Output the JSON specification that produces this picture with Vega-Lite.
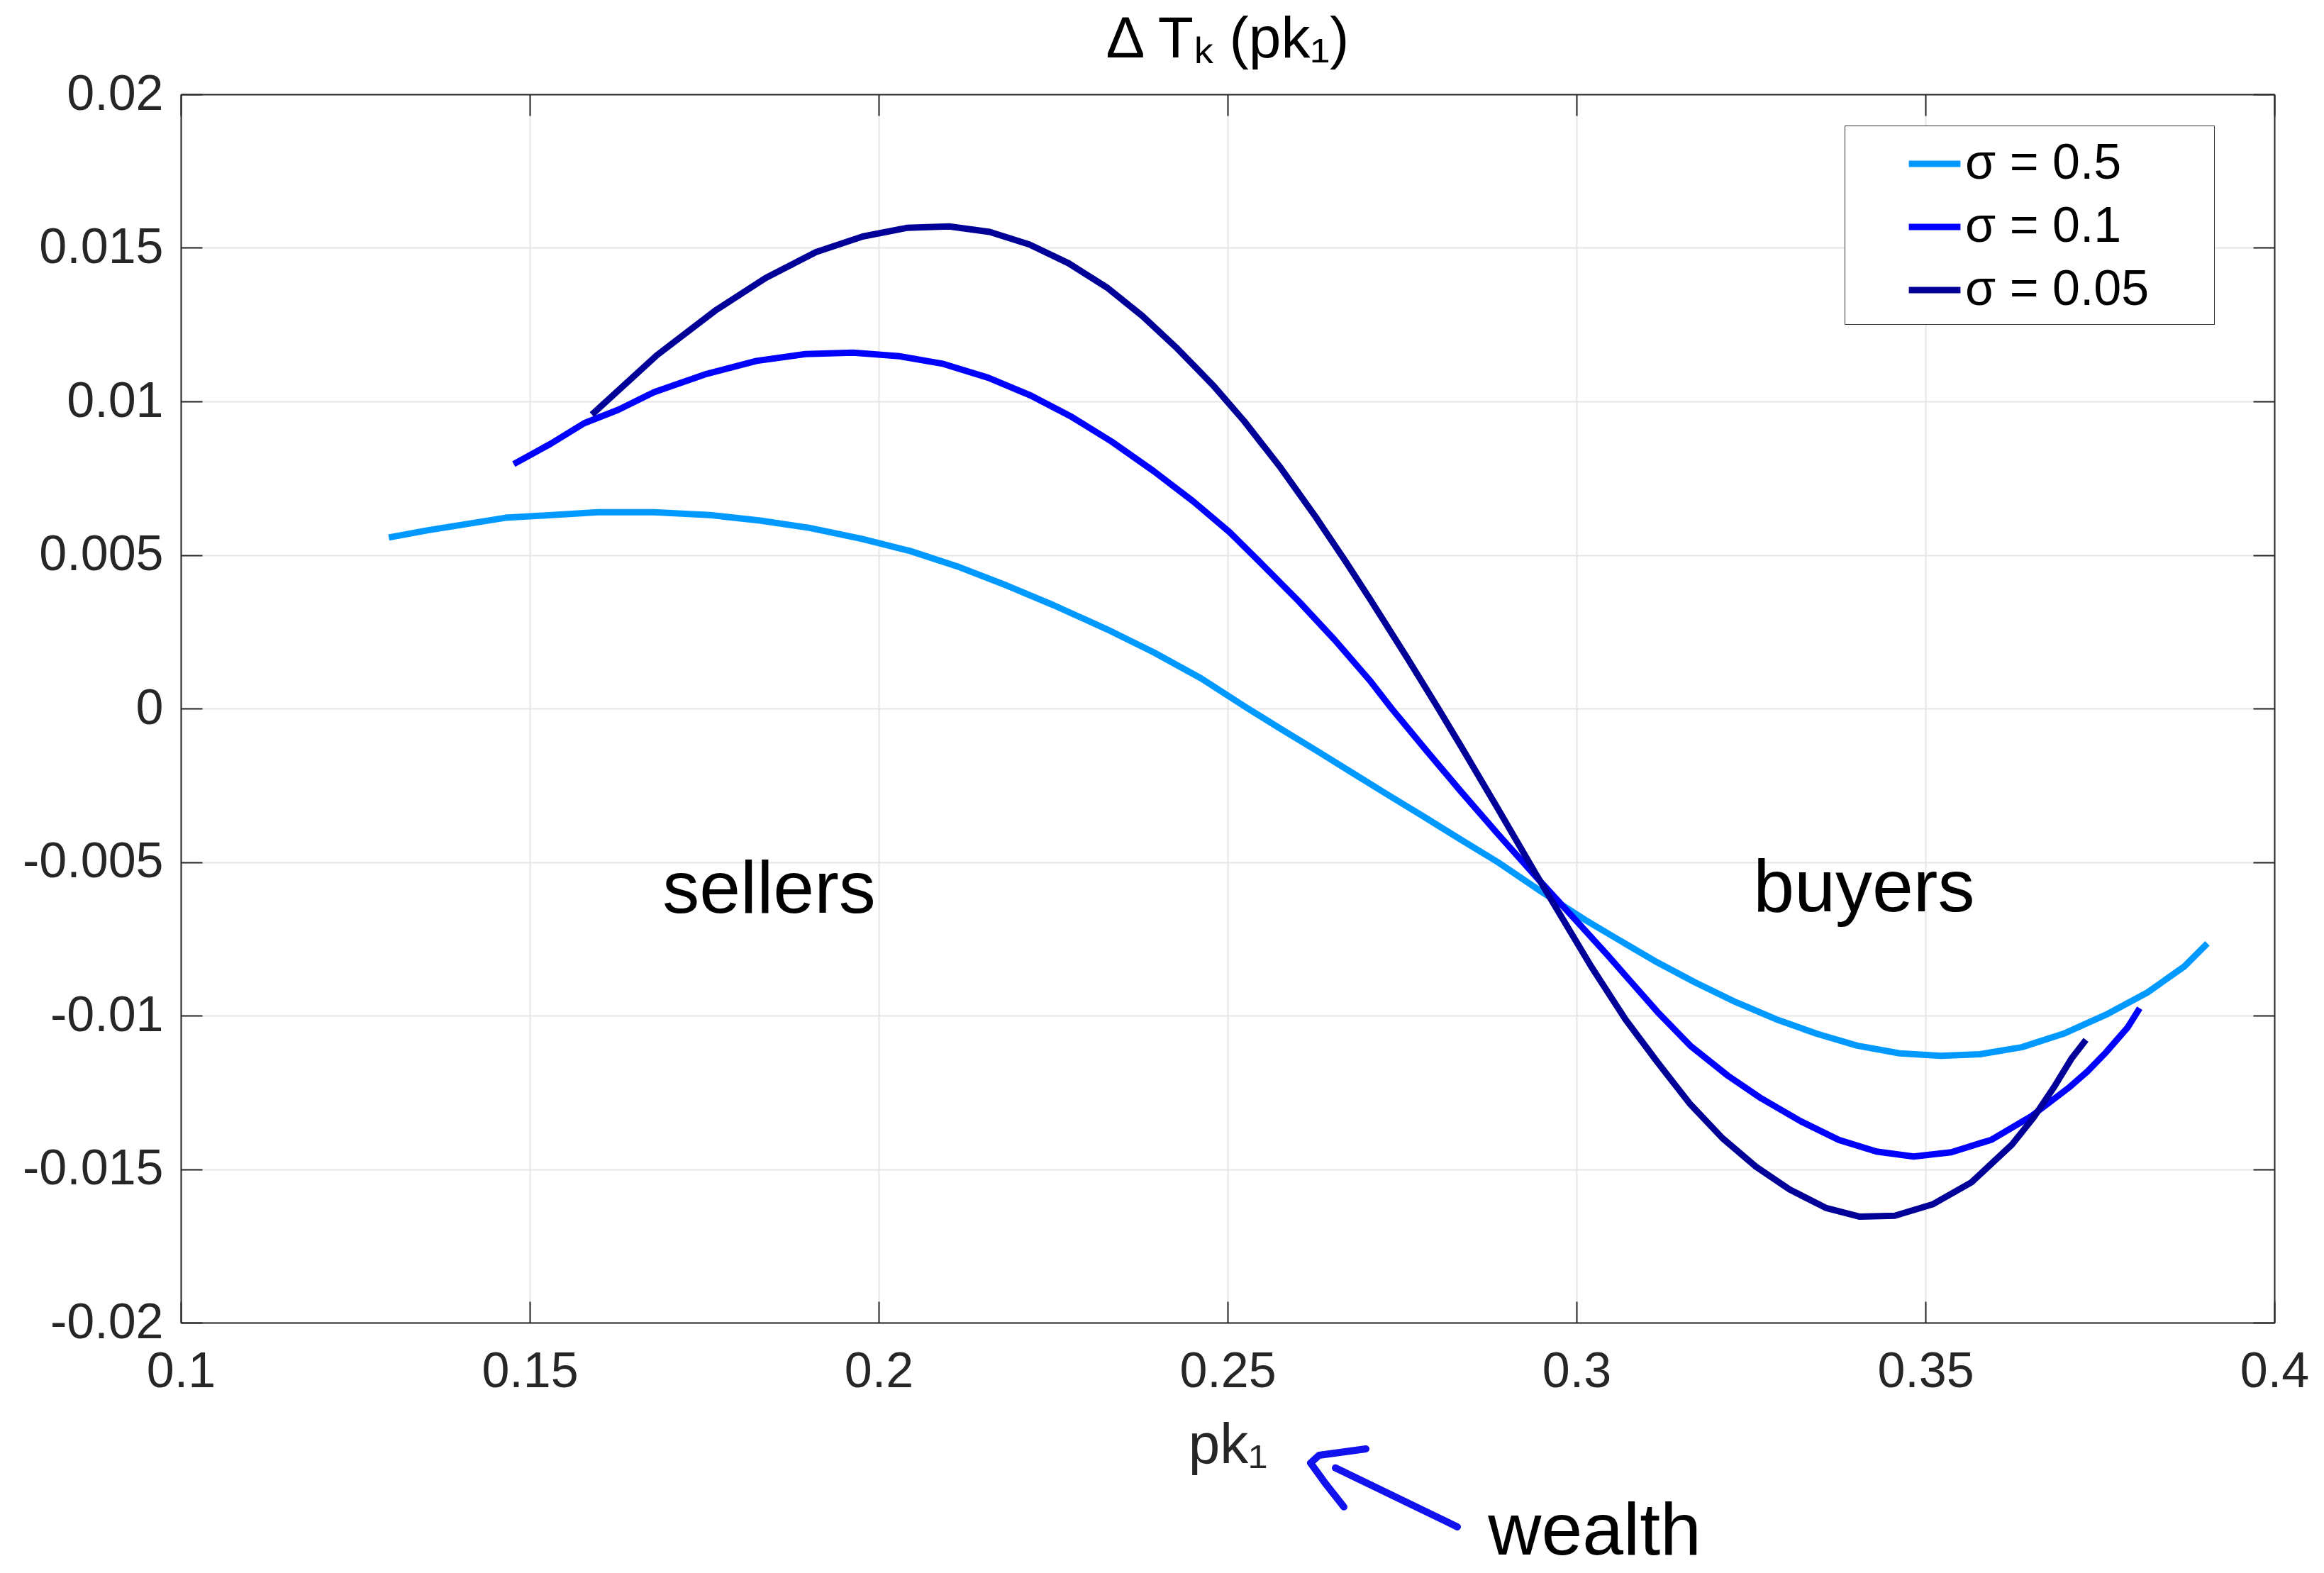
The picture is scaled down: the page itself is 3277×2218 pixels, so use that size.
{
  "$schema": "https://vega.github.io/schema/vega-lite/v6.json",
  "width": 2952,
  "height": 1732,
  "autosize": {"type": "none"},
  "padding": {"left": 255, "top": 133, "right": 70, "bottom": 353},
  "background": "white",
  "title": {"text": "Δ Tₖ (pk₁)", "fontSize": 82, "font": "Liberation Sans", "fontWeight": "normal", "color": "#000000", "anchor": "middle", "frame": "group", "baseline": "alphabetic", "offset": -65},
  "config": {
    "view": {"stroke": null},
    "font": "Liberation Sans",
    "axis": {"labelFont": "Liberation Sans", "titleFont": "Liberation Sans"},
    "text": {"font": "Liberation Sans"}
  },
  "datasets": {
    "curves": [
      {"s": "σ = 0.5", "x": 0.1298, "y": 0.00557},
      {"s": "σ = 0.5", "x": 0.1353, "y": 0.0058},
      {"s": "σ = 0.5", "x": 0.1465, "y": 0.00621},
      {"s": "σ = 0.5", "x": 0.1598, "y": 0.00639},
      {"s": "σ = 0.5", "x": 0.1678, "y": 0.00639},
      {"s": "σ = 0.5", "x": 0.1758, "y": 0.0063},
      {"s": "σ = 0.5", "x": 0.1830, "y": 0.00612},
      {"s": "σ = 0.5", "x": 0.1901, "y": 0.00588},
      {"s": "σ = 0.5", "x": 0.1975, "y": 0.00553},
      {"s": "σ = 0.5", "x": 0.2045, "y": 0.00513},
      {"s": "σ = 0.5", "x": 0.2116, "y": 0.0046},
      {"s": "σ = 0.5", "x": 0.2184, "y": 0.0040},
      {"s": "σ = 0.5", "x": 0.2251, "y": 0.00336},
      {"s": "σ = 0.5", "x": 0.2327, "y": 0.00258},
      {"s": "σ = 0.5", "x": 0.2394, "y": 0.00183},
      {"s": "σ = 0.5", "x": 0.2462, "y": 0.00098},
      {"s": "σ = 0.5", "x": 0.2529, "y": 0.0},
      {"s": "σ = 0.5", "x": 0.2576, "y": -0.00066},
      {"s": "σ = 0.5", "x": 0.2628, "y": -0.00138},
      {"s": "σ = 0.5", "x": 0.2679, "y": -0.0021},
      {"s": "σ = 0.5", "x": 0.2731, "y": -0.00283},
      {"s": "σ = 0.5", "x": 0.2783, "y": -0.00355},
      {"s": "σ = 0.5", "x": 0.2835, "y": -0.00428},
      {"s": "σ = 0.5", "x": 0.2887, "y": -0.005},
      {"s": "σ = 0.5", "x": 0.2950, "y": -0.00597},
      {"s": "σ = 0.5", "x": 0.3012, "y": -0.00688},
      {"s": "σ = 0.5", "x": 0.3058, "y": -0.0075},
      {"s": "σ = 0.5", "x": 0.3112, "y": -0.00822},
      {"s": "σ = 0.5", "x": 0.3170, "y": -0.00892},
      {"s": "σ = 0.5", "x": 0.3228, "y": -0.00956},
      {"s": "σ = 0.5", "x": 0.3286, "y": -0.01012},
      {"s": "σ = 0.5", "x": 0.3344, "y": -0.01059},
      {"s": "σ = 0.5", "x": 0.3402, "y": -0.01098},
      {"s": "σ = 0.5", "x": 0.3463, "y": -0.01123},
      {"s": "σ = 0.5", "x": 0.3522, "y": -0.01131},
      {"s": "σ = 0.5", "x": 0.3578, "y": -0.01126},
      {"s": "σ = 0.5", "x": 0.3638, "y": -0.01103},
      {"s": "σ = 0.5", "x": 0.3698, "y": -0.01059},
      {"s": "σ = 0.5", "x": 0.3759, "y": -0.00997},
      {"s": "σ = 0.5", "x": 0.3818, "y": -0.00925},
      {"s": "σ = 0.5", "x": 0.3871, "y": -0.0084},
      {"s": "σ = 0.5", "x": 0.3904, "y": -0.00765},

      {"s": "σ = 0.1", "x": 0.1477, "y": 0.00796},
      {"s": "σ = 0.1", "x": 0.1530, "y": 0.00862},
      {"s": "σ = 0.1", "x": 0.1578, "y": 0.00929},
      {"s": "σ = 0.1", "x": 0.1627, "y": 0.00973},
      {"s": "σ = 0.1", "x": 0.1678, "y": 0.0103},
      {"s": "σ = 0.1", "x": 0.1751, "y": 0.01088},
      {"s": "σ = 0.1", "x": 0.1825, "y": 0.01132},
      {"s": "σ = 0.1", "x": 0.1895, "y": 0.01154},
      {"s": "σ = 0.1", "x": 0.1963, "y": 0.01159},
      {"s": "σ = 0.1", "x": 0.2030, "y": 0.01147},
      {"s": "σ = 0.1", "x": 0.2093, "y": 0.01122},
      {"s": "σ = 0.1", "x": 0.2157, "y": 0.01077},
      {"s": "σ = 0.1", "x": 0.2218, "y": 0.01019},
      {"s": "σ = 0.1", "x": 0.2277, "y": 0.00949},
      {"s": "σ = 0.1", "x": 0.2334, "y": 0.00869},
      {"s": "σ = 0.1", "x": 0.2394, "y": 0.00773},
      {"s": "σ = 0.1", "x": 0.2451, "y": 0.00674},
      {"s": "σ = 0.1", "x": 0.2503, "y": 0.00574},
      {"s": "σ = 0.1", "x": 0.2550, "y": 0.00468},
      {"s": "σ = 0.1", "x": 0.2602, "y": 0.00349},
      {"s": "σ = 0.1", "x": 0.2654, "y": 0.00222},
      {"s": "σ = 0.1", "x": 0.2705, "y": 0.00088},
      {"s": "σ = 0.1", "x": 0.2735, "y": 0.0},
      {"s": "σ = 0.1", "x": 0.2783, "y": -0.00132},
      {"s": "σ = 0.1", "x": 0.2835, "y": -0.00272},
      {"s": "σ = 0.1", "x": 0.2887, "y": -0.00408},
      {"s": "σ = 0.1", "x": 0.2942, "y": -0.00548},
      {"s": "σ = 0.1", "x": 0.3004, "y": -0.00702},
      {"s": "σ = 0.1", "x": 0.3044, "y": -0.00802},
      {"s": "σ = 0.1", "x": 0.3078, "y": -0.0089},
      {"s": "σ = 0.1", "x": 0.3116, "y": -0.00988},
      {"s": "σ = 0.1", "x": 0.3163, "y": -0.01098},
      {"s": "σ = 0.1", "x": 0.3217, "y": -0.01196},
      {"s": "σ = 0.1", "x": 0.3265, "y": -0.0127},
      {"s": "σ = 0.1", "x": 0.3322, "y": -0.01345},
      {"s": "σ = 0.1", "x": 0.3376, "y": -0.01405},
      {"s": "σ = 0.1", "x": 0.3430, "y": -0.01443},
      {"s": "σ = 0.1", "x": 0.3483, "y": -0.01459},
      {"s": "σ = 0.1", "x": 0.3537, "y": -0.01445},
      {"s": "σ = 0.1", "x": 0.3595, "y": -0.01404},
      {"s": "σ = 0.1", "x": 0.3651, "y": -0.01329},
      {"s": "σ = 0.1", "x": 0.3707, "y": -0.01232},
      {"s": "σ = 0.1", "x": 0.3732, "y": -0.01182},
      {"s": "σ = 0.1", "x": 0.3759, "y": -0.01119},
      {"s": "σ = 0.1", "x": 0.3790, "y": -0.01038},
      {"s": "σ = 0.1", "x": 0.3807, "y": -0.00976},

      {"s": "σ = 0.05", "x": 0.1589, "y": 0.00957},
      {"s": "σ = 0.05", "x": 0.1682, "y": 0.0115},
      {"s": "σ = 0.05", "x": 0.1766, "y": 0.01296},
      {"s": "σ = 0.05", "x": 0.1838, "y": 0.01402},
      {"s": "σ = 0.05", "x": 0.1910, "y": 0.01486},
      {"s": "σ = 0.05", "x": 0.1977, "y": 0.01537},
      {"s": "σ = 0.05", "x": 0.2040, "y": 0.01565},
      {"s": "σ = 0.05", "x": 0.2101, "y": 0.0157},
      {"s": "σ = 0.05", "x": 0.2159, "y": 0.01552},
      {"s": "σ = 0.05", "x": 0.2216, "y": 0.01511},
      {"s": "σ = 0.05", "x": 0.2272, "y": 0.0145},
      {"s": "σ = 0.05", "x": 0.2327, "y": 0.01371},
      {"s": "σ = 0.05", "x": 0.2378, "y": 0.01278},
      {"s": "σ = 0.05", "x": 0.2428, "y": 0.01172},
      {"s": "σ = 0.05", "x": 0.2479, "y": 0.01053},
      {"s": "σ = 0.05", "x": 0.2524, "y": 0.00935},
      {"s": "σ = 0.05", "x": 0.2576, "y": 0.00784},
      {"s": "σ = 0.05", "x": 0.2628, "y": 0.00618},
      {"s": "σ = 0.05", "x": 0.2669, "y": 0.00479},
      {"s": "σ = 0.05", "x": 0.2705, "y": 0.00353},
      {"s": "σ = 0.05", "x": 0.2757, "y": 0.00166},
      {"s": "σ = 0.05", "x": 0.2799, "y": 0.00011},
      {"s": "σ = 0.05", "x": 0.2835, "y": -0.00125},
      {"s": "σ = 0.05", "x": 0.2887, "y": -0.00325},
      {"s": "σ = 0.05", "x": 0.2942, "y": -0.0054},
      {"s": "σ = 0.05", "x": 0.3021, "y": -0.0084},
      {"s": "σ = 0.05", "x": 0.3070, "y": -0.01012},
      {"s": "σ = 0.05", "x": 0.3116, "y": -0.01152},
      {"s": "σ = 0.05", "x": 0.3162, "y": -0.01286},
      {"s": "σ = 0.05", "x": 0.3209, "y": -0.01399},
      {"s": "σ = 0.05", "x": 0.3257, "y": -0.01492},
      {"s": "σ = 0.05", "x": 0.3305, "y": -0.01566},
      {"s": "σ = 0.05", "x": 0.3357, "y": -0.01626},
      {"s": "σ = 0.05", "x": 0.3406, "y": -0.01655},
      {"s": "σ = 0.05", "x": 0.3456, "y": -0.01652},
      {"s": "σ = 0.05", "x": 0.3510, "y": -0.01615},
      {"s": "σ = 0.05", "x": 0.3566, "y": -0.01543},
      {"s": "σ = 0.05", "x": 0.3624, "y": -0.0142},
      {"s": "σ = 0.05", "x": 0.3655, "y": -0.01332},
      {"s": "σ = 0.05", "x": 0.3684, "y": -0.01234},
      {"s": "σ = 0.05", "x": 0.3709, "y": -0.01141},
      {"s": "σ = 0.05", "x": 0.3730, "y": -0.01079}
    ],
    "notes": [
      {"x": 0.1843, "y": -0.00665, "label": "sellers"},
      {"x": 0.3412, "y": -0.0066, "label": "buyers"},
      {"x": 0.3026, "y": -0.02755, "label": "wealth"}
    ],
    "arrow": [
      {"seg": "shaft", "i": 0, "x": 0.28293, "y": -0.02665},
      {"seg": "shaft", "i": 1, "x": 0.26545, "y": -0.02473},
      {"seg": "head", "i": 0, "x": 0.26982, "y": -0.02411},
      {"seg": "head", "i": 1, "x": 0.26311, "y": -0.02432},
      {"seg": "head", "i": 2, "x": 0.26189, "y": -0.02457},
      {"seg": "head", "i": 3, "x": 0.26413, "y": -0.02527},
      {"seg": "head", "i": 4, "x": 0.26667, "y": -0.026}
    ]
  },
  "layer": [
    {
      "data": {"name": "curves"},
      "mark": {"type": "line", "strokeWidth": 9, "strokeJoin": "round"},
      "encoding": {
        "x": {
          "field": "x", "type": "quantitative",
          "scale": {"domain": [0.1, 0.4], "nice": false, "zero": false},
          "axis": {
            "orient": "bottom",
            "values": [0.1, 0.15, 0.2, 0.25, 0.3, 0.35, 0.4],
            "labelExpr": "toString(round(datum.value*1000)/1000)",
            "grid": true, "gridColor": "#e6e6e6", "gridWidth": 2,
            "ticks": true, "tickSize": -30, "tickColor": "#262626", "tickWidth": 2,
            "domain": true, "domainColor": "#262626", "domainWidth": 2,
            "labelFontSize": 70, "labelColor": "#262626", "labelPadding": 65, "labelLimit": 1000,
            "labelFlush": false, "labelOverlap": false,
            "title": "pk₁", "titleFontSize": 80, "titleFontWeight": "normal", "titleColor": "#262626", "titlePadding": 30
          }
        },
        "y": {
          "field": "y", "type": "quantitative",
          "scale": {"domain": [-0.02, 0.02], "nice": false, "zero": false},
          "axis": {
            "orient": "left",
            "values": [-0.02, -0.015, -0.01, -0.005, 0, 0.005, 0.01, 0.015, 0.02],
            "labelExpr": "toString(round(datum.value*1000)/1000)",
            "grid": true, "gridColor": "#e6e6e6", "gridWidth": 2,
            "ticks": true, "tickSize": -30, "tickColor": "#262626", "tickWidth": 2,
            "domain": true, "domainColor": "#262626", "domainWidth": 2,
            "labelFontSize": 70, "labelColor": "#262626", "labelPadding": 55, "labelLimit": 1000,
            "labelFlush": false, "labelOverlap": false,
            "title": null
          }
        },
        "color": {
          "field": "s", "type": "nominal",
          "scale": {"domain": ["σ = 0.5", "σ = 0.1", "σ = 0.05"], "range": ["#0099ff", "#0000ff", "#000099"]},
          "legend": {
            "orient": "none", "legendX": 2346, "legendY": 44,
            "title": null,
            "symbolType": "stroke", "symbolSize": 5300, "symbolStrokeWidth": 9,
            "labelFontSize": 70, "labelColor": "#000000", "labelFont": "Liberation Sans", "labelLimit": 2000,
            "labelExpr": "datum.label + '\u00a0\u00a0\u00a0\u00a0\u200b'",
            "padding": 13, "symbolOffset": 73, "labelOffset": 2, "rowPadding": 13,
            "strokeColor": "#333333", "fillColor": "#ffffff"
          }
        }
      }
    },
    {
      "mark": {"type": "rule", "strokeDash": [20, 20], "color": "#666666", "strokeWidth": 3.5},
      "encoding": {
        "y": {"datum": 0, "type": "quantitative", "scale": {"domain": [-0.02, 0.02], "nice": false, "zero": false}, "axis": null}
      }
    },
    {
      "data": {"name": "arrow"},
      "mark": {"type": "line", "color": "#1212ee", "strokeWidth": 10, "strokeCap": "round", "strokeJoin": "round", "clip": false},
      "encoding": {
        "x": {"field": "x", "type": "quantitative", "scale": {"domain": [0.1, 0.4], "nice": false, "zero": false}, "axis": null},
        "y": {"field": "y", "type": "quantitative", "scale": {"domain": [-0.02, 0.02], "nice": false, "zero": false}, "axis": null},
        "detail": {"field": "seg"},
        "order": {"field": "i", "type": "quantitative"}
      }
    },
    {
      "data": {"name": "notes"},
      "mark": {"type": "text", "fontSize": 104, "align": "center", "baseline": "alphabetic", "color": "#000000", "font": "Liberation Sans"},
      "encoding": {
        "x": {
          "field": "x", "type": "quantitative", "scale": {"domain": [0.1, 0.4], "nice": false, "zero": false},
          "axis": {
            "orient": "top", "labels": false, "grid": false, "title": null,
            "values": [0.1, 0.15, 0.2, 0.25, 0.3, 0.35, 0.4],
            "ticks": true, "tickSize": -30, "tickColor": "#262626", "tickWidth": 2,
            "domain": true, "domainColor": "#262626", "domainWidth": 2
          }
        },
        "y": {
          "field": "y", "type": "quantitative", "scale": {"domain": [-0.02, 0.02], "nice": false, "zero": false},
          "axis": {
            "orient": "right", "labels": false, "grid": false, "title": null,
            "values": [-0.02, -0.015, -0.01, -0.005, 0, 0.005, 0.01, 0.015, 0.02],
            "ticks": true, "tickSize": -30, "tickColor": "#262626", "tickWidth": 2,
            "domain": true, "domainColor": "#262626", "domainWidth": 2
          }
        },
        "text": {"field": "label", "type": "nominal"}
      }
    }
  ],
  "resolve": {"axis": {"x": "independent", "y": "independent"}}
}
